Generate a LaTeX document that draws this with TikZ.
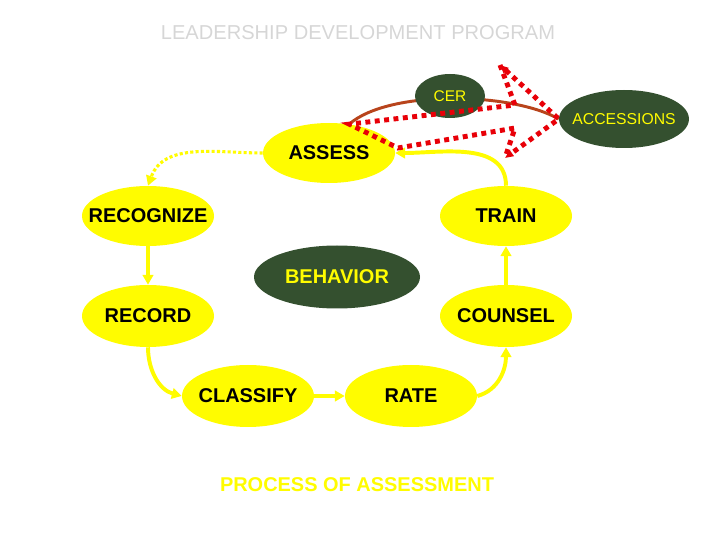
\documentclass[tikz,border=0pt]{standalone}
\usepackage{fontspec}
\setmainfont{Liberation Sans}
\usetikzlibrary{shapes.geometric,arrows.meta,backgrounds}

\definecolor{leaf}{RGB}{52,80,47}
\definecolor{sun}{RGB}{255,252,0}
\definecolor{rust}{RGB}{184,68,28}
\definecolor{alarm}{RGB}{232,0,8}
\definecolor{mist}{RGB}{214,214,214}

\tikzset{
    stage/.style={ellipse, fill=sun, minimum width=3.3cm, minimum height=1.5cm,
        inner xsep=-20pt, inner ysep=0pt, font=\fontsize{14.2}{16}\selectfont\bfseries},
    core/.style={ellipse, fill=leaf, text=sun, inner xsep=-20pt, inner ysep=0pt},
    flow/.style={draw=sun, line width=2.8pt, -{Triangle[length=7pt,width=7.5pt]}},
    hint/.style={flow, line width=2.2pt, dash pattern=on 2.2pt off 1.6pt},
    link/.style={draw=rust, line width=2.1pt},
    burst/.style={draw=alarm, line width=3.5pt, dash pattern=on 3.5pt off 3.2pt}
}

\begin{document}
\begin{tikzpicture}
    \useasboundingbox (0,0) rectangle (18,13.5);

    % Titles
    \node[text=mist, font=\fontsize{14.3}{16}\selectfont] (title) at (8.95,12.675) {LEADERSHIP DEVELOPMENT PROGRAM};
    \node[text=sun, font=\fontsize{14.2}{16}\selectfont\bfseries] (process) at (8.925,1.375) {PROCESS OF ASSESSMENT};

    % Cycle
    \node[stage] (assess) at (8.225,9.675) {ASSESS};
    \node[stage] (recognize) at (3.7,8.1) {RECOGNIZE};
    \node[stage] (train) at (12.65,8.1) {TRAIN};
    \node[stage, minimum height=1.55cm] (record) at (3.7,5.6) {RECORD};
    \node[stage, minimum height=1.55cm] (counsel) at (12.65,5.6) {COUNSEL};
    \node[stage, minimum height=1.55cm] (classify) at (6.2,3.6) {CLASSIFY};
    \node[stage, minimum height=1.55cm] (rate) at (10.275,3.6) {RATE};

    \node[core, minimum width=4.15cm, minimum height=1.575cm, font=\fontsize{14.2}{16}\selectfont\bfseries] (behavior) at (8.425,6.575) {BEHAVIOR};
    \node[core, minimum width=1.75cm, minimum height=1.1cm, font=\fontsize{11}{13}\selectfont] (cer) at (11.25,11.1) {CER};
    \node[core, minimum width=3.25cm, minimum height=1.45cm, font=\fontsize{11.2}{13}\selectfont] (accessions) at (15.6,10.525) {ACCESSIONS};

    % Arrows
    \draw[hint] (assess.west) to[out=180, in=70] (recognize.north);
    \draw[flow] (recognize) -- (record);
    \draw[flow] (record.south) to[out=-90, in=165] (classify.west);
    \draw[flow] (classify) -- (rate);
    \draw[flow] (rate.east) to[out=15, in=-90] (counsel.south);
    \draw[flow] (counsel) -- (train);
    \draw[flow] (train.north) to[out=90, in=0] (assess.east);

    % Link behind CER
    \begin{scope}[on background layer]
        \draw[link] (assess.55) to[out=41, in=150, looseness=0.65] (accessions.west);
    \end{scope}

    % Dotted block arrow
    \coordinate (shoulder) at (12.875,10.875);
    \coordinate (uptip) at (12.5,11.875);
    \coordinate (downtip) at (12.625,9.55);
    \coordinate (heel) at (12.875,10.3);
    \coordinate (notch) at (9.95,9.8);
    \draw[burst] (uptip) -- (shoulder) -- (assess.55) -- (notch) -- (heel) -- (downtip);
    \draw[burst, {Triangle[length=6pt,width=5pt]}-{Triangle[length=6pt,width=5pt]}] (uptip) -- (accessions.west) -- (downtip);
\end{tikzpicture}
\end{document}
